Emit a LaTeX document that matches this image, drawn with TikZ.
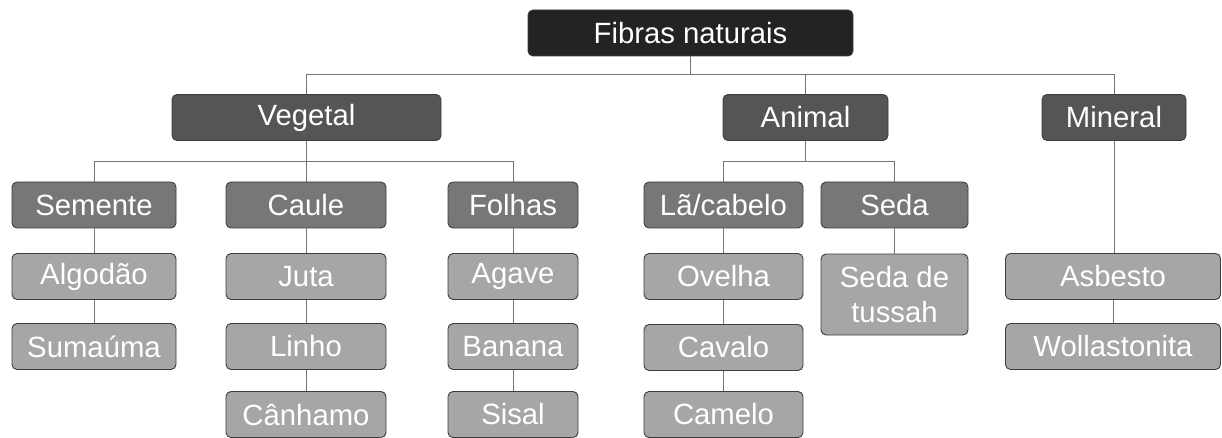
\documentclass[tikz,border=0pt]{standalone}
\usepackage{fontspec}
\setmainfont{Liberation Sans}
\definecolor{topfill}{HTML}{232323}
\definecolor{midfill}{HTML}{555555}
\definecolor{subfill}{HTML}{777777}
\definecolor{leaffill}{HTML}{A6A6A6}
\definecolor{boxline}{HTML}{3C3C3C}
\definecolor{linkline}{HTML}{747474}

\begin{document}
\begin{tikzpicture}[x=1pt,y=-1pt,
    box/.style={draw=boxline,line width=0.9pt,rounded corners=5pt,text=white,inner sep=0pt,
      align=center,font=\fontsize{29.3}{35}\selectfont,minimum height=46pt},
    topbox/.style={box,fill=topfill},
    midbox/.style={box,fill=midfill},
    subbox/.style={box,fill=subfill},
    leafbox/.style={box,fill=leaffill},
    link/.style={draw=linkline,line width=0.9pt}]
  \useasboundingbox (0,0) rectangle (1222,438);
  \node[topbox,minimum width=325pt] (fibras) at (690.5,33) {Fibras naturais};
  \node[midbox,minimum width=269pt] (vegetal) at (306.5,117.5) {Vegetal};
  \node[midbox,minimum width=165pt] (animal) at (805.5,117.5) {Animal};
  \node[midbox,minimum width=144pt] (mineral) at (1114,117.5) {Mineral};
  \node[subbox,minimum width=164pt] (semente) at (94,205) {Semente};
  \node[subbox,minimum width=160pt] (caule) at (306,205) {Caule};
  \node[subbox,minimum width=130pt] (folhas) at (513,205) {Folhas};
  \node[subbox,minimum width=159pt] (la) at (723.5,205) {Lã/cabelo};
  \node[subbox,minimum width=147pt] (seda) at (894.5,205) {Seda};
  \node[leafbox,minimum width=164pt] (algodao) at (94,276.5) {Algodão};
  \node[leafbox,minimum width=164pt] (sumauma) at (94,346.5) {Sumaúma};
  \node[leafbox,minimum width=160pt] (juta) at (306,276.5) {Juta};
  \node[leafbox,minimum width=160pt] (linho) at (306,346.5) {Linho};
  \node[leafbox,minimum width=160pt] (canhamo) at (306,414.5) {Cânhamo};
  \node[leafbox,minimum width=130pt] (agave) at (513,276.5) {Agave};
  \node[leafbox,minimum width=130pt] (banana) at (513,346.5) {Banana};
  \node[leafbox,minimum width=130pt] (sisal) at (513,414.5) {Sisal};
  \node[leafbox,minimum width=159pt] (ovelha) at (723.5,276.5) {Ovelha};
  \node[leafbox,minimum width=159pt] (cavalo) at (723.5,347.5) {Cavalo};
  \node[leafbox,minimum width=159pt] (camelo) at (723.5,414.5) {Camelo};
  \node[leafbox,minimum width=147pt,minimum height=81pt] (tussah) at (894.5,294.5) {Seda de\\tussah};
  \node[leafbox,minimum width=215pt] (asbesto) at (1113,276.5) {Asbesto};
  \node[leafbox,minimum width=215pt] (wollas) at (1113,346.5) {Wollastonita};

  \draw[link] (fibras.south) -- ++(0,18) coordinate (fj);
  \draw[link] (fj) -| (vegetal.north) (fj) -| (animal.north) (fj) -| (mineral.north);
  \draw[link] (vegetal.south) -- ++(0,21) coordinate (vj);
  \draw[link] (vj) -| (semente.north) (vj) -| (caule.north) (vj) -| (folhas.north);
  \draw[link] (animal.south) -- ++(0,21) coordinate (aj);
  \draw[link] (aj) -| (la.north) (aj) -| (seda.north);
  \draw[link] (mineral.south) -- (mineral.south |- asbesto.north);
  \draw[link] (semente) -- (algodao) (algodao) -- (sumauma);
  \draw[link] (caule) -- (juta) (juta) -- (linho) (linho) -- (canhamo);
  \draw[link] (folhas) -- (agave) (agave) -- (banana) (banana) -- (sisal);
  \draw[link] (la) -- (ovelha) (ovelha) -- (cavalo) (cavalo) -- (camelo);
  \draw[link] (seda) -- (tussah);
  \draw[link] (asbesto) -- (wollas);
\end{tikzpicture}
\end{document}
